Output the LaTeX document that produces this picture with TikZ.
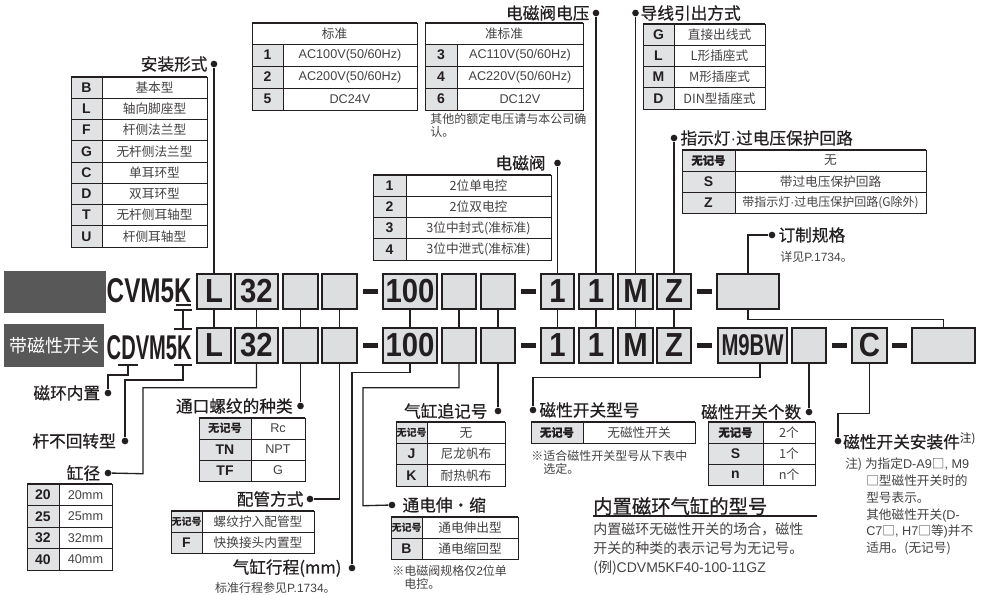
\documentclass[tikz,border=0pt]{standalone}
\usepackage{fontspec}
\usepackage{graphicx}
\setmainfont{Liberation Sans}
\newfontfamily\cjk{Noto Sans CJK SC}
\newfontfamily\cjkt{Noto Sans CJK SC}[FakeBold=0.6]
\usetikzlibrary{positioning}

\definecolor{ink}{RGB}{35,31,32}
\definecolor{boxgray}{RGB}{221,222,224}
\definecolor{keygray}{RGB}{225,226,228}
\definecolor{darkbox}{RGB}{88,88,88}

\newcommand\lat[1]{{\normalfont #1}}
\newcommand\cd[1]{\scalebox{0.88}[1]{#1}}
\newcommand\wjh[1][8.5]{{\cjk\fontsize{#1}{#1}\selectfont 无记号}}
\newcommand\wjhb{{\cjkt\fontsize{8.5}{9}\selectfont 无记号}}

% one option table: name, left, key edge, right, top, row height, key/value rows
\newcommand\spectable[7]{%
  \foreach \k/\v [count=\i] in {#7} {
    \pgfmathsetmacro\ya{#5+(\i-1)*#6}
    \pgfmathsetmacro\yb{#5+\i*#6}
    \fill[keygray] (#2,\ya) rectangle (#3,\yb);
    \draw[cell] (#2,\ya) rectangle (#4,\yb) (#3,\ya) -- (#3,\yb);
    \node[keytxt] (#1k\i) at ({(#2+#3)/2},{(\ya+\yb)/2}) {\k};
    \node[valtxt] (#1v\i) at ({(#3+#4)/2},{(\ya+\yb)/2}) {\v};
  }
}

\begin{document}
\begin{tikzpicture}[x=0.75pt, y=-0.75pt,
  conn/.style={draw=ink, line width=1pt},
  dot/.style={circle, fill=ink, inner sep=0pt, minimum size=5pt},
  cbox/.style={draw=ink, fill=boxgray, line width=1.1pt, minimum height=26.25pt,
    inner sep=0pt, text=ink, font=\bfseries\fontsize{25}{25}\selectfont},
  wd/.style={minimum width=#1*0.75pt},
  hyph/.style={draw=ink, line width=3.2pt},
  ttl/.style={font=\cjkt\fontsize{12.5}{14}\selectfont, text=ink, inner sep=0pt},
  note/.style={font=\cjk\fontsize{9}{10}\selectfont, text=ink!85, inner sep=0pt, align=left},
  cell/.style={draw=ink, line width=0.6pt},
  topline/.style={draw=ink, line width=1.6pt},
  keytxt/.style={font=\bfseries\fontsize{10.5}{12}\selectfont, text=ink, inner sep=0pt},
  valtxt/.style={font=\cjk\fontsize{9.5}{11}\selectfont, text=ink!85, inner sep=0pt}]
\useasboundingbox (0,0) rectangle (985,595);

% model tags
\node[fill=darkbox, minimum width=76.5pt, minimum height=31.5pt, inner sep=0pt, anchor=north west] (tag1) at (4,271) {};
\node[fill=darkbox, minimum width=75pt, minimum height=32.25pt, inner sep=0pt, anchor=north west,
  text=white, font=\cjk\fontsize{13.5}{14}\selectfont] (tag2) at (4,324) {带磁性开关};
\node[anchor=east, inner sep=0pt, text=ink] (base1) at (192,291) {\resizebox{63.75pt}{18pt}{\bfseries CVM5K}};
\node[anchor=east, inner sep=0pt, text=ink] (base2) at (192,348) {\resizebox{63.75pt}{18pt}{\bfseries CDVM5K}};

% code boxes
\foreach \n/\x/\w/\t in {a/214/34/L, b/256.5/43/32, c/300.5/35/{}, d/339.5/35/{}, e/410/54/100,
    f/459/34/{}, g/498/34/{}, h/557.5/33/1, i/596/34/1, j/635.5/35/M, k/674/34/Z} {
  \node[cbox, wd=\w] (r1\n) at (\x,291.5) {\cd{\t}};
  \node[cbox, wd=\w] (r2\n) at (\x,345.5) {\cd{\t}};
  \draw[conn] (r1\n) -- (r2\n);
}
\node[cbox, wd=62] (r1l) at (748,291.5) {};
\node[cbox, wd=69] (r2l) at (752.5,345.5) {\resizebox{46.5pt}{15.75pt}{M9BW}};
\node[cbox, wd=34] (r2m) at (809,345.5) {};
\node[cbox, wd=35] (r2n) at (869.5,345.5) {\cd{C}};
\node[cbox, wd=63] (r2o) at (943.5,345.5) {};
\foreach \y in {291.5,345.5}
  \foreach \a in {363,521,697} \draw[hyph] (\a,\y) -- ++(15,0);
\foreach \a in {832,892} \draw[hyph] (\a,345.5) -- ++(15,0);
\draw[conn] (r1l.south) -- ++(0,10) -| (r2o.north);

% K and D marks
\coordinate (kA) at (183.5,305);
\coordinate (kB) at (183,310);
\coordinate (uD) at (128,365);
\coordinate (uK) at (183,365);
\draw[conn] (kA) ++(-7.5,0) -- ++(15,0);
\draw[conn] (kB) ++(-9,0) -- ++(18,0) (kB) -- ++(0,19) ++(-9,0) -- ++(18,0);
\draw[conn] (uD) ++(-10,0) -- ++(20,0);
\draw[conn] (uK) ++(-9,0) -- ++(18,0);

% dots
\node[dot] (dMount) at (214,64) {};
\node[dot] (dVolt) at (596,13) {};
\node[dot] (dWire) at (635.5,13) {};
\node[dot] (dValve) at (557.5,163) {};
\node[dot] (dLamp) at (674,138) {};
\node[dot] (dCust) at (772,235) {};
\node[dot] (dCH) at (108,393) {};
\node[dot] (dRN) at (125,441) {};
\node[dot] (dBore) at (108,473) {};
\node[dot] (dPort) at (300.5,406) {};
\node[dot] (dPipe) at (310,499) {};
\node[dot] (dStroke) at (352,568) {};
\node[dot] (dAct) at (392,505) {};
\node[dot] (dSuf) at (498,411) {};
\node[dot] (dSw) at (533,410) {};
\node[dot] (dNum) at (809,412) {};
\node[dot] (dMnt) at (838,441) {};

% connectors up
\draw[conn] (r1a) -- (dMount);
\draw[conn] (r1h) -- (dValve);
\draw[conn] (r1i) -- (dVolt);
\draw[conn] (r1j) -- (dWire);
\draw[conn] (r1k) -- (dLamp);
\draw[conn] (r1l.north) |- (dCust);
% connectors down
\draw[conn] (uD) -- ++(0,10) -| (dCH);
\draw[conn] (uK) -- ++(0,15) -| (dRN);
\draw[conn] (r2b.south) -- ++(0,24) -| ++(-113.5,86) -- (dBore);
\draw[conn] (r2c) -- (dPort);
\draw[conn] (r2d.south) |- (dPipe);
\draw[conn] (r2e.south) -- ++(0,9) -| (dStroke);
\draw[conn] (r2f.south) -- ++(0,24) -| ++(-96,118) -- (dAct);
\draw[conn] (r2g) -- (dSuf);
\draw[conn] ([xshift=5.6pt]r2l.south) -- ++(0,14) -| (dSw);
\draw[conn] (r2m) -- (dNum);
\draw[conn] (r2n.south) -- ++(0,50) -| (dMnt);

% titles
\node[ttl, left=2pt of dMount] (tMount) {安装形式};
\node[ttl, left=2pt of dVolt] (tVolt) {电磁阀电压};
\node[ttl, right=1pt of dWire] (tWire) {导线引出方式};
\node[ttl, left=6pt of dValve] (tValve) {电磁阀};
\node[ttl, right=2pt of dLamp] (tLamp) {指示灯\lat{·}过电压保护回路};
\node[ttl, right=2pt of dCust] (tCust) {订制规格};
\node[ttl, left=3pt of dCH] (tCH) {磁环内置};
\node[ttl, left=4pt of dRN] (tRN) {杆不回转型};
\node[ttl, left=3pt of dBore] (tBore) {缸径};
\node[ttl, left=3pt of dPort] (tPort) {通口螺纹的种类};
\node[ttl, left=2pt of dPipe] (tPipe) {配管方式};
\node[ttl, left=5pt of dStroke] (tStroke) {气缸行程(mm)};
\node[ttl, right=5pt of dAct] (tAct) {通电伸・缩};
\node[ttl, left=5pt of dSuf] (tSuf) {气缸追记号};
\node[ttl, right=2pt of dSw] (tSw) {磁性开关型号};
\node[ttl, left=3pt of dNum] (tNum) {磁性开关个数};
\node[ttl, right=1pt of dMnt] (tMnt) {磁性开关安装件\textsuperscript{\cjk 注)}};

% tables
\spectable{mt}{71}{102}{207}{77}{21.25}{B/基本型, L/轴向脚座型, F/杆侧法兰型, G/无杆侧法兰型,
  C/单耳环型, D/双耳环型, T/无杆侧耳轴型, U/杆侧耳轴型}
\draw[cell] (252,23) rectangle (417,44) (425,23) rectangle (583,44);
\node[valtxt] (sth) at (334.5,33.5) {标准};
\node[valtxt] (qsh) at (504,33.5) {准标准};
\spectable{st}{252}{283}{417}{44}{22}{1/{\lat{AC100V(50/60Hz)}}, 2/{\lat{AC200V(50/60Hz)}}, 5/\lat{DC24V}}
\spectable{qs}{425}{457}{583}{44}{22}{3/{\lat{AC110V(50/60Hz)}}, 4/{\lat{AC220V(50/60Hz)}}, 6/\lat{DC12V}}
\spectable{vt}{373}{406}{551}{175}{21.25}{1/2位单电控, 2/2位双电控, 3/3位中封式(准标准), 4/3位中泄式(准标准)}
\spectable{wr}{643}{674}{765}{24}{21.25}{G/直接出线式, L/L形插座式, M/M形插座式, D/DIN型插座式}
\spectable{lp}{682}{735}{926}{150}{21}{\wjhb/无, S/带过电压保护回路,
  Z/{\fontsize{9}{10}\selectfont 带指示灯\lat{·}过电压保护回路(G除外)}}
\spectable{bo}{27}{59}{112}{484}{21.5}{20/\lat{20mm}, 25/\lat{25mm}, 32/\lat{32mm}, 40/\lat{40mm}}
\spectable{pt}{199}{251}{305}{418}{21}{\wjh/\lat{Rc}, TN/\lat{NPT}, TF/\lat{G}}
\spectable{pp}{171}{202}{314}{511}{21}{\wjh[7.5]/螺纹拧入配管型, F/快换接头内置型}
\spectable{ac}{391}{422}{518}{517}{21}{\wjh[7.5]/通电伸出型, B/通电缩回型}
\spectable{sf}{396}{427}{505}{422}{21.3}{\wjh[7.5]/无, J/尼龙帆布, K/耐热帆布}
\spectable{sw}{531}{583}{695}{422}{21}{\wjhb/无磁性开关}
\spectable{nm}{708}{763}{815}{422}{21}{\wjhb/2个, S/1个, n/n个}
\foreach \a/\b/\y in {71/207/77, 252/417/23, 425/583/23, 373/551/175, 643/765/24, 682/926/150,
    27/112/484, 199/305/418, 171/314/511, 391/518/517, 396/505/422, 531/695/422, 708/815/422}
  \draw[topline] (\a,\y) -- (\b,\y);

% notes
\node[note, anchor=north west] (nVolt) at (430,113) {其他的额定电压请与本公司确\\认。};
\node[note, anchor=west] (nCust) at (780,257) {详见\lat{P.1734}。};
\node[note, anchor=east] (nStroke) at (336,588) {标准行程参见\lat{P.1734}。};
\node[note, anchor=north west] (nSw) at (531,450) {※适合磁性开关型号从下表中\\\hspace*{1em}选定。};
\node[note, anchor=north west] (nAct) at (392,565) {※电磁阀规格仅\lat{2}位单\\\hspace*{1em}电控。};
\node[note, anchor=north west, font=\cjk\fontsize{9.5}{12.5}\selectfont] (nMnt1) at (845,458)
  {注) 为指定\lat{D-A9}□\lat{, M9}};
\node[note, anchor=north west, font=\cjk\fontsize{9.5}{12.5}\selectfont] (nMnt2) at (866,475)
  {□型磁性开关时的\\型号表示。\\其他磁性开关\lat{(D-}\\\lat{C7}□\lat{, H7}□等\lat{)}并不\\适用。(无记号)};

% built-in magnet model note
\node[ttl, anchor=west, font=\cjkt\fontsize{14.5}{16}\selectfont] (bTitle) at (593,506) {内置磁环气缸的型号};
\draw[line width=1.1pt, ink] (593,516) -- (817,516);
\node[note, anchor=north west, font=\cjk\fontsize{10.5}{14.25}\selectfont] (bText) at (593,522)
  {内置磁环无磁性开关的场合，磁性\\开关的种类的表示记号为无记号。\\(例)\lat{CDVM5KF40-100-11GZ}};
\end{tikzpicture}
\end{document}
